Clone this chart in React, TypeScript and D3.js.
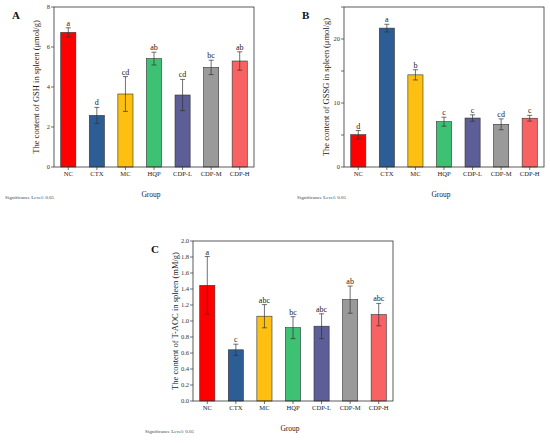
import { useEffect, useRef } from 'react'
import * as d3 from 'd3'

const GROUPS = ['NC', 'CTX', 'MC', 'HQP', 'CDP-L', 'CDP-M', 'CDP-H']
const COLORS = ['#ff0000', '#2c5e95', '#fcbf12', '#3dc172', '#5d5d97', '#9a9a9a', '#f86262']

const GSH_MEAN = [6.73, 2.58, 3.65, 5.42, 3.6, 4.98, 5.3]
const GSH_ERR = [0.23, 0.4, 0.87, 0.32, 0.78, 0.36, 0.46]
const GSH_SIG = ['a', 'd', 'cd', 'ab', 'cd', 'bc', 'ab']
const GSH_TICKS = [0, 2, 4, 6, 8]

const GSSG_MEAN = [5.05, 21.7, 14.4, 7.08, 7.65, 6.67, 7.62]
const GSSG_ERR = [0.65, 0.6, 0.8, 0.7, 0.5, 0.85, 0.45]
const GSSG_SIG = ['d', 'a', 'b', 'c', 'c', 'cd', 'c']
const GSSG_TICKS = [0, 5, 10, 15, 20, 25]
const GSSG_LABELS = [0, 10, 20]

const TAOC_MEAN = [1.446, 0.64, 1.06, 0.917, 0.935, 1.267, 1.08]
const TAOC_ERR = [0.36, 0.07, 0.145, 0.137, 0.155, 0.17, 0.14]
const TAOC_SIG = ['a', 'c', 'abc', 'bc', 'abc', 'ab', 'abc']
const TAOC_TICKS = [0, 0.2, 0.4, 0.6, 0.8, 1.0, 1.2, 1.4, 1.6, 1.8, 2.0]

const FONT = '"Liberation Serif", "DejaVu Serif", serif'

interface PanelProps {
  x: number
  y: number
  letter: string
  yLabel: string
  means: number[]
  errs: number[]
  sig: string[]
  max: number
  ticks: number[]
  labels?: number[]
  fmt: (v: number) => string
  sigX: number
}

const W = 200, H = 160

function Panel(p: PanelProps) {
  const ref = useRef<SVGGElement>(null)

  useEffect(() => {
    const g = d3.select(ref.current)
    g.selectAll('*').remove()

    const xSc = d3.scaleBand().domain(GROUPS).range([0, W]).paddingInner(0.47).paddingOuter(0.235)
    const ySc = d3.scaleLinear().domain([0, p.max]).range([H, 0])
    const labels = p.labels ?? p.ticks

    // bars
    GROUPS.forEach((grp, i) => {
      g.append('rect')
        .attr('x', xSc(grp)!).attr('y', ySc(p.means[i]))
        .attr('width', xSc.bandwidth()).attr('height', H - ySc(p.means[i]))
        .attr('fill', COLORS[i]).attr('stroke', '#333').attr('stroke-width', 0.6)
    })

    // error bars + letters
    GROUPS.forEach((grp, i) => {
      const cx = xSc(grp)! + xSc.bandwidth() / 2
      const hi = ySc(p.means[i] + p.errs[i]), lo = ySc(p.means[i] - p.errs[i])
      g.append('line').attr('x1', cx).attr('x2', cx).attr('y1', hi).attr('y2', lo)
        .attr('stroke', '#333').attr('stroke-width', 0.7)
      ;[hi, lo].forEach(yy => g.append('line').attr('x1', cx - 2.5).attr('x2', cx + 2.5)
        .attr('y1', yy).attr('y2', yy).attr('stroke', '#333').attr('stroke-width', 0.7))
      g.append('text').attr('x', cx).attr('y', hi - 2).attr('text-anchor', 'middle')
        .attr('font-family', FONT).attr('font-size', 8).attr('fill', '#222').text(p.sig[i])
    })

    // frame
    g.append('rect').attr('width', W).attr('height', H).attr('fill', 'none')
      .attr('stroke', '#333').attr('stroke-width', 0.8)

    // y ticks
    p.ticks.forEach(t => {
      g.append('line').attr('x1', -3).attr('x2', 0).attr('y1', ySc(t)).attr('y2', ySc(t))
        .attr('stroke', '#333').attr('stroke-width', 0.7)
    })
    labels.forEach(t => {
      g.append('text').attr('x', -4).attr('y', ySc(t)).attr('dy', '0.35em')
        .attr('text-anchor', 'end').attr('font-family', FONT).attr('font-size', 6.5)
        .attr('fill', '#333').text(p.fmt(t))
    })

    // x ticks
    GROUPS.forEach(grp => {
      const cx = xSc(grp)! + xSc.bandwidth() / 2
      g.append('line').attr('x1', cx).attr('x2', cx).attr('y1', H).attr('y2', H + 3)
        .attr('stroke', '#333').attr('stroke-width', 0.7)
      g.append('text').attr('x', cx).attr('y', H + 9).attr('text-anchor', 'middle')
        .attr('font-family', FONT).attr('font-size', 6.6).attr('fill', '#222').text(grp)
    })

    // titles
    g.append('text').attr('transform', `translate(-15,${H / 2}) rotate(-90)`)
      .attr('text-anchor', 'middle').attr('font-family', FONT).attr('font-size', 8.5)
      .attr('fill', '#222').text(p.yLabel)
    g.append('text').attr('x', W / 2 - 3).attr('y', H + 30).attr('text-anchor', 'middle')
      .attr('font-family', FONT).attr('font-size', 7.5).attr('fill', '#222').text('Group')
    g.append('text').attr('x', p.sigX).attr('y', H + 32)
      .attr('font-family', FONT).attr('font-size', 5).attr('fill', '#444').text('Significance Level: 0.05')
    g.append('text').attr('x', -42).attr('y', 12).attr('font-family', FONT)
      .attr('font-size', 11).attr('font-weight', 'bold').attr('fill', '#111').text(p.letter)
  }, [p])

  return <g ref={ref} transform={`translate(${p.x},${p.y})`} />
}

export default function App() {
  return (
    <div style={{ position: 'absolute', left: 0, top: 0 }}>
      <svg width={550} height={443} style={{ display: 'block', background: '#fff' }}>
        <Panel x={54} y={7} letter="A" yLabel="The content of GSH in spleen (μmol/g)"
          means={GSH_MEAN} errs={GSH_ERR} sig={GSH_SIG} max={8} ticks={GSH_TICKS}
          fmt={v => String(v)} sigX={-49} />
        <Panel x={344} y={7} letter="B" yLabel="The content of GSSG in spleen (μmol/g)"
          means={GSSG_MEAN} errs={GSSG_ERR} sig={GSSG_SIG} max={25} ticks={GSSG_TICKS}
          labels={GSSG_LABELS} fmt={v => String(v)} sigX={-47} />
        <Panel x={193} y={241} letter="C" yLabel="The content of T-AOC in spleen (mM/g)"
          means={TAOC_MEAN} errs={TAOC_ERR} sig={TAOC_SIG} max={2} ticks={TAOC_TICKS}
          fmt={v => v.toFixed(1)} sigX={-48} />
      </svg>
    </div>
  )
}
